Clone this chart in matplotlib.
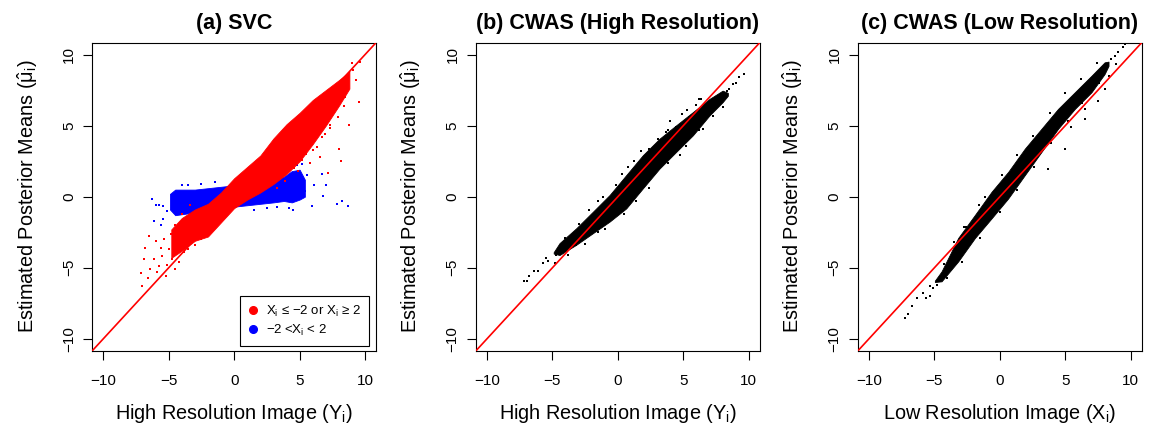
import matplotlib
matplotlib.use("Agg")
import matplotlib.pyplot as plt
from matplotlib.lines import Line2D

plt.rcParams["font.family"] = ["Liberation Sans", "DejaVu Sans"]
plt.rcParams["mathtext.fontset"] = "custom"
plt.rcParams["mathtext.rm"] = "Liberation Sans"
plt.rcParams["mathtext.it"] = "Liberation Sans:italic"
plt.rcParams["mathtext.bf"] = "Liberation Sans:bold"

# ---- panel (a) SVC: dense cores (x, lower, upper) ----
a_red_x = [-4.8, -4.0, -3.0, -2.0, -1.0, 0.0, 1.0, 2.0, 3.0, 4.0, 5.0, 6.0, 7.0, 8.0, 8.8]
a_red_lo = [-4.3, -3.8, -3.1, -2.8, -1.8, -0.8, -0.2, 0.3, 0.9, 1.6, 2.5, 3.7, 5.0, 6.4, 7.6]
a_red_hi = [-2.3, -1.5, -0.9, -0.5, 0.3, 1.3, 2.1, 2.9, 4.1, 5.1, 5.9, 6.8, 7.5, 8.2, 8.8]

a_blue_x = [-4.9, -4.5, -3.0, -2.0, -1.0, 0.0, 1.0, 2.0, 3.0, 3.8, 4.4, 5.0, 5.4]
a_blue_lo = [-0.9, -1.3, -1.1, -0.9, -0.8, -0.7, -0.6, -0.5, -0.4, -0.3, -0.4, -0.2, 0.0]
a_blue_hi = [0.2, 0.5, 0.5, 0.6, 0.7, 0.8, 1.0, 1.1, 1.2, 1.4, 1.8, 1.9, 1.2]

# sparse points outside the cores
a_red_px = [-7.0, -7.15, -6.9, -6.77, -6.4, -6.13, -5.75, -5.5, -5.24, -4.99, -4.73, -6.5,
            -6.0, -5.36, -4.5, -6.6, -5.9, -5.1, -4.85, -5.6,
            -4.2, -3.8, -3.5, -3.0, -2.5, -4.5, -4.0, -3.4,
            9.57, 8.8, 7.33, 8.04, 8.14, 7.2, 9.62, 9.1, 7.5, 6.31, 6.56, 9.3, 8.5, 7.8,
            6.9, 5.8, 9.0,
            5.5, 6.0, 6.7, 7.3, 7.9, 8.4, 5.2, 4.6, 4.9, 3.9, 3.3]
a_red_py = [-6.3, -5.34, -4.4, -3.6, -5.1, -4.4, -4.9, -4.17, -5.58, -3.7, -4.4, -2.78,
            -3.1, -3.0, -5.1, -5.7, -5.3, -4.8, -2.6, -3.6,
            -4.6, -3.9, -3.7, -3.4, -3.0, -2.0, -1.2, -0.6,
            6.63, 5.06, 5.02, 3.34, 2.54, 1.66, 9.47, 8.89, 5.97, 3.52, 2.82, 8.2, 7.0, 6.2,
            4.4, 2.4, 9.4,
            3.0, 3.3, 4.2, 4.8, 5.6, 6.4, 2.6, 2.0, 1.8, 1.1, 0.6]
a_blue_px = [-6.28, -6.0, -5.4, -4.0, -6.13, -5.62, -5.11, -4.73, -5.75, -5.4,
             6.69, 7.02, 6.77, 7.84, 8.22, 8.73, 5.93, 5.42, 6.13, 5.6, 5.2, 4.8, 4.2,
             2.5, 3.3, 4.5, 1.5, -1.0, -2.5, -3.5, -3.5, -2.5, -1.5, 2.9, 3.5]
a_blue_py = [-0.14, -0.56, -1.6, 0.84, -1.73, -1.96, -1.03, 0.14, -0.6, -0.68,
             1.63, 0.84, 0.02, -0.49, -0.33, -0.68, -0.68, 0.37, 0.84, 1.5, 2.3, 2.2, -0.8,
             -0.8, -0.7, -0.9, -0.9, -1.2, -1.3, -1.4, 0.8, 0.9, 1.0, 1.6, 1.7]

# ---- panel (b) CWAS high resolution ----
b_x = [-4.9, -4.45, -3.18, -1.9, -0.63, 0.64, 1.91, 3.18, 4.45, 5.73, 7.0, 8.0, 8.4]
b_lo = [-4.0, -4.1, -3.38, -2.56, -1.75, -0.82, 0.59, 1.98, 3.15, 4.32, 5.72, 6.65, 7.1]
b_hi = [-3.9, -3.26, -2.22, -1.05, 0.12, 1.52, 2.92, 4.08, 5.02, 5.95, 6.88, 7.46, 7.3]
b_px = [-7.13, -6.75, -6.37, -6.11, -5.73, -5.34, -4.7, -4.83, -6.9, -5.5,
        9.67, 9.28, 8.78, 8.52, 8.01, 6.36, 7.5, 5.98, 4.45, 3.69, 9.0, 8.3,
        -1.15, -0.13, 0.76, 2.41, 3.05, 3.82, 5.47, 6.23,
        -1.53, -3.18, -0.13, 2.41, 4.71, 6.49, 8.01,
        -4.0, -3.0, -2.2, -1.5, 0.3, 1.2, 1.8, 4.0, 4.9, 5.3,
        -3.8, -2.5, -1.0, 0.5, 1.4, 3.8, 5.2, 6.2, 7.3]
b_py = [-5.95, -5.6, -5.25, -5.2, -4.66, -4.55, -4.09, -4.66, -5.9, -4.3,
        8.63, 8.4, 7.93, 7.58, 7.12, 6.88, 6.9, 6.42, 4.9, 4.55, 8.0, 7.4,
        0.0, 0.82, 2.1, 3.38, 4.08, 4.66, 5.6, 6.88,
        -2.45, -3.38, -1.28, 0.58, 2.92, 4.78, 6.3,
        -2.9, -1.9, -0.9, -0.3, 1.6, 2.5, 3.2, 5.3, 5.8, 6.1,
        -4.1, -3.3, -2.3, -1.2, -0.3, 2.4, 3.6, 4.7, 5.7]

# ---- panel (c) CWAS low resolution ----
c_x = [-4.96, -4.45, -3.18, -1.9, -0.63, 0.64, 1.91, 3.18, 4.45, 5.73, 7.0, 8.0, 8.3]
c_lo = [-6.0, -5.95, -4.55, -2.9, -1.52, -0.12, 1.52, 3.15, 4.78, 6.18, 7.35, 8.63, 9.2]
c_hi = [-5.9, -5.25, -2.9, -1.28, 0.35, 1.75, 3.38, 4.78, 6.18, 7.35, 8.51, 9.45, 9.5]
c_px = [-7.25, -7.0, -6.74, -6.36, -5.6, -5.34, -5.85, -5.08, -4.83, -5.3,
        8.52, 9.03, 9.41, 9.54, 8.8, 7.5, 6.49, 4.96, 3.69, -1.15, -2.55,
        8.3, 8.9, 8.0, 6.49, 5.47,
        -4.3, -3.5, -2.7, -1.6, 0.2, 1.3, 2.5, 3.8, 5.0, 6.2, 7.4,
        -4.0, -2.9, -1.5, 0.0, 1.3, 2.6, 3.9, 5.2, 6.3, 7.6]
c_py = [-8.51, -8.28, -7.7, -7.12, -7.12, -7.0, -6.76, -6.42, -6.18, -6.3,
        9.68, 10.15, 10.5, 10.73, 9.9, 6.76, 5.48, 3.38, 1.98, 0.0, -2.1,
        8.5, 9.3, 7.58, 6.18, 4.9,
        -4.7, -3.2, -2.1, -0.6, 1.5, 2.9, 4.3, 5.9, 7.3, 8.3, 9.4,
        -5.7, -4.6, -2.9, -1.1, 0.5, 2.1, 3.8, 5.3, 6.6, 8.0]

ticks = [-10, -5, 0, 5, 10]
lim = (-10.83, 10.83)

fig = plt.figure(figsize=(11.54, 4.28), dpi=100)
lefts = [0.080, 0.4125, 0.7435]
titles = ["(a) SVC", "(b) CWAS (High Resolution)", "(c) CWAS (Low Resolution)"]
xlabels = ["High Resolution Image (Y$_\\mathrm{i}$)",
           "High Resolution Image (Y$_\\mathrm{i}$)",
           "Low Resolution Image (X$_\\mathrm{i}$)"]
ylab = "Estimated Posterior Means ($\\hat{\\mathrm{μ}}_\\mathrm{i}$)"

axes = []
for i in range(3):
    ax = fig.add_axes([lefts[i], 0.1806, 0.2458, 0.7196])
    ax.set_xlim(lim)
    ax.set_ylim(lim)
    ax.set_xticks(ticks)
    ax.set_yticks(ticks)
    ax.tick_params(direction="out", length=6.8, width=0.8, labelsize=11)
    ax.tick_params(axis="x", pad=10)
    ax.tick_params(axis="y", pad=5, labelrotation=90)
    for lab in ax.get_yticklabels():
        lab.set_va("center")
    for s in ax.spines.values():
        s.set_linewidth(0.8)
    ax.set_title(titles[i], fontsize=15.5, fontweight="bold", pad=10)
    ax.set_xlabel(xlabels[i], fontsize=14.3, labelpad=10)
    ax.set_ylabel(ylab, fontsize=14.3, labelpad=16)
    axes.append(ax)

ms = 3.2

# (a)
ax = axes[0]
ax.fill_between(a_blue_x, a_blue_lo, a_blue_hi, color="#0000FF", lw=0.6, zorder=2)
ax.scatter(a_blue_px, a_blue_py, s=ms, marker="s", color="#0000FF", lw=0, zorder=2)
ax.fill_between(a_red_x, a_red_lo, a_red_hi, color="#FF0000", lw=0.6, zorder=3)
ax.scatter(a_red_px, a_red_py, s=ms, marker="s", color="#FF0000", lw=0, zorder=3)
ax.plot(lim, lim, color="#FF0000", lw=1.2, zorder=4)
handles = [Line2D([], [], ls="", marker="o", ms=5.5, color="#FF0000"),
           Line2D([], [], ls="", marker="o", ms=5.5, color="#0000FF")]
leg = ax.legend(handles, ["X$_\\mathrm{i}$ ≤ −2 or X$_\\mathrm{i}$ ≥ 2", "−2 <X$_\\mathrm{i}$ < 2"],
                loc="lower right", bbox_to_anchor=(0.975, 0.015), borderaxespad=0,
                fontsize=9.5, handlelength=0.8, handletextpad=0.6, borderpad=0.6,
                labelspacing=0.3, fancybox=False, edgecolor="black", framealpha=1)
leg.get_frame().set_linewidth(0.8)

# (b)
ax = axes[1]
ax.fill_between(b_x, b_lo, b_hi, color="black", lw=0.6, zorder=2)
ax.scatter(b_px, b_py, s=ms, marker="s", color="black", lw=0, zorder=2)
ax.plot(lim, lim, color="#FF0000", lw=1.2, zorder=4)

# (c)
ax = axes[2]
ax.fill_between(c_x, c_lo, c_hi, color="black", lw=0.6, zorder=2)
ax.scatter(c_px, c_py, s=ms, marker="s", color="black", lw=0, zorder=2)
ax.plot(lim, lim, color="#FF0000", lw=1.2, zorder=4)

fig.savefig("out.png", dpi=100)
